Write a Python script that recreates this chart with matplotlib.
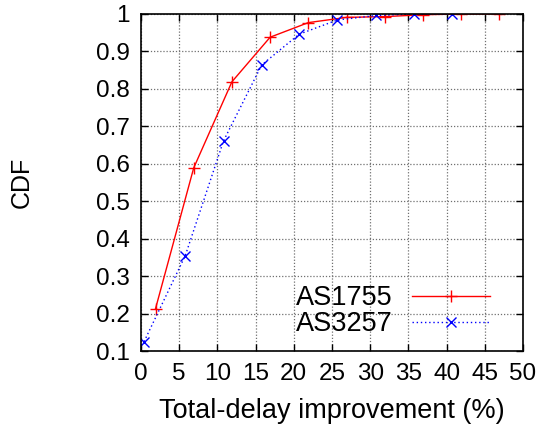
import numpy as np
import matplotlib
matplotlib.use('Agg')
import matplotlib.pyplot as plt

plt.rcParams['font.family'] = ['Liberation Sans', 'DejaVu Sans']

# AS1755 series
x_as1755 = [1.9, 6.9, 11.9, 16.9, 21.9, 26.9, 31.9, 36.9, 41.9, 46.9]
cdf_as1755 = [0.213, 0.589, 0.819, 0.938, 0.977, 0.991, 0.993, 0.998, 1.0, 1.0]

# AS3257 series
x_as3257 = [0.4, 5.8, 10.8, 15.8, 20.7, 25.7, 30.8, 35.7, 40.7]
cdf_as3257 = [0.125, 0.355, 0.661, 0.864, 0.946, 0.984, 0.996, 1.0, 1.0]

xticks = np.arange(0, 51, 5)
yticks = [0.1, 0.2, 0.3, 0.4, 0.5, 0.6, 0.7, 0.8, 0.9, 1]
ytick_labels = ['0.1', '0.2', '0.3', '0.4', '0.5', '0.6', '0.7', '0.8', '0.9', '1']

fig = plt.figure(figsize=(5.45, 4.26), dpi=100)
ax = fig.add_axes([141/545, 1 - 351/426, (523-141)/545, (351-14)/426])

ax.plot(x_as1755, cdf_as1755, color='#ff0000', lw=1.0, marker='+', ms=9, mew=1.0, label='AS1755')
ax.plot(x_as3257, cdf_as3257, color='#0000ff', lw=1.0, ls=(0, (1, 2)), marker='x', ms=7.5, mew=1.0, label='AS3257')

ax.set_xlim(0, 50)
ax.set_ylim(0.1, 1)
ax.set_xticks(xticks)
ax.set_yticks(yticks)
ax.set_yticklabels(ytick_labels)
ax.tick_params(direction='in', length=5, width=1, top=True, right=True, labelsize=17.5)
ax.tick_params(axis='x', pad=9)
ax.tick_params(axis='y', pad=8)
ax.grid(True, color='#707070', ls=(0, (1, 1.5)), lw=0.9)
for s in ax.spines.values():
    s.set_linewidth(1.2)

ax.set_xlabel('Total-delay improvement (%)', fontsize=19.5)
ax.set_ylabel('CDF', fontsize=18)
ax.xaxis.set_label_coords(0.5, -0.14)
ax.yaxis.set_label_coords(-0.28, 0.5)

leg = ax.legend(loc='lower right', frameon=False, fontsize=19.5, markerfirst=False,
                handlelength=2.9, handletextpad=0.7, borderaxespad=0.1,
                labelspacing=0.0, bbox_to_anchor=(0.95, 0.0))

fig.savefig('out.png', dpi=100)
